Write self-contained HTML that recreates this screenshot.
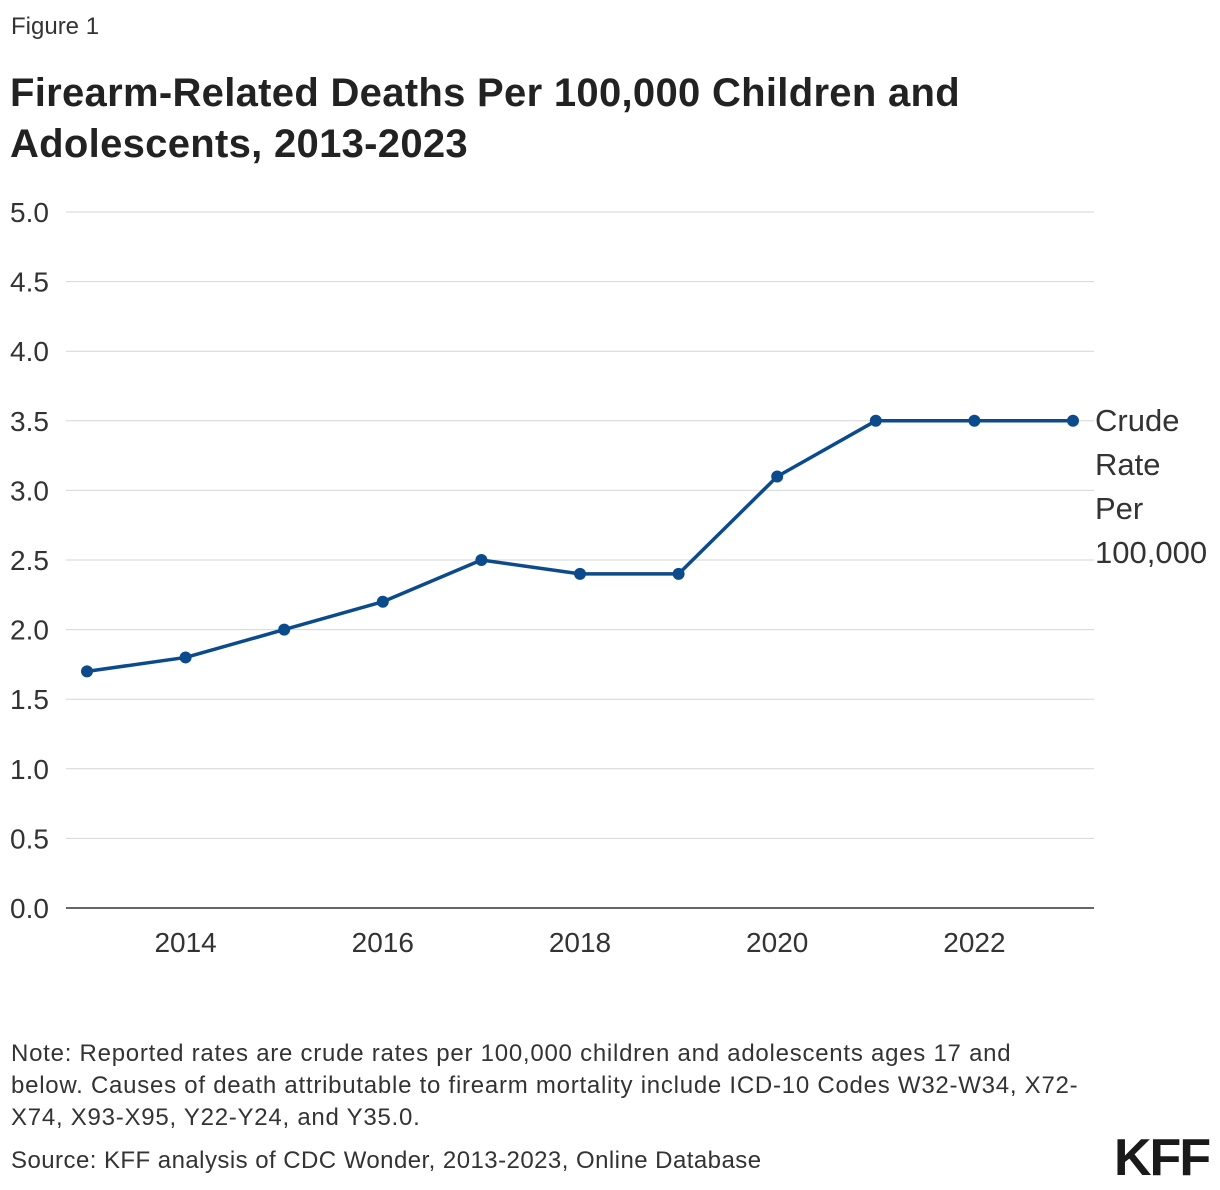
<!DOCTYPE html>
<html><head><meta charset="utf-8"><style>
body{margin:0;width:1220px;height:1190px;background:#fff;font-family:"Liberation Sans",sans-serif;color:#222;position:relative;overflow:hidden}
.t{position:absolute;white-space:nowrap}
</style></head><body>
<div class="t" style="left:11px;top:13px;font-size:24px;color:#333">Figure 1</div>
<div class="t" style="left:10px;top:68px;font-size:40px;font-weight:bold;line-height:51px;color:#222;letter-spacing:0.3px">Firearm-Related Deaths Per 100,000 Children and<br>Adolescents, 2013-2023</div>
<svg id="chart" width="1220" height="1000" style="position:absolute;left:0;top:0"></svg>
<div class="t" style="left:11px;top:1038px;font-size:24px;line-height:32px;color:#333;letter-spacing:0.75px">Note: Reported rates are crude rates per 100,000 children and adolescents ages 17 and<br>below. Causes of death attributable to firearm mortality include ICD-10 Codes W32-W34, X72-<br>X74, X93-X95, Y22-Y24, and Y35.0.</div>
<div class="t" style="left:11px;top:1147px;font-size:24px;color:#333;letter-spacing:0.45px">Source: KFF analysis of CDC Wonder, 2013-2023, Online Database</div>
<div class="t" style="left:1114px;top:1128px;font-size:52px;font-weight:bold;color:#1a1a1a;letter-spacing:-2px">KFF</div>
<script>
const years=[2013,2014,2015,2016,2017,2018,2019,2020,2021,2022,2023];
const rates=[1.7,1.8,2.0,2.2,2.5,2.4,2.4,3.1,3.5,3.5,3.5];
const yTicks=[0,0.5,1,1.5,2,2.5,3,3.5,4,4.5,5];
const xTicks=[2014,2016,2018,2020,2022];
const ns="http://www.w3.org/2000/svg";
const svg=document.getElementById('chart');
const X=v=>87+(v-2013)*98.6, Y=v=>908-v*139.2;
function mk(t,a){const e=document.createElementNS(ns,t);for(const k in a)e.setAttribute(k,a[k]);svg.appendChild(e);return e;}
yTicks.forEach(v=>{
 const l=mk('line',{x1:66,x2:1094,y1:Y(v),y2:Y(v),stroke:v===0?'#333':'#d6d6d6','stroke-width':v===0?1.5:1});
 
 
 const t=mk('text',{x:10,y:Y(v)+10,'font-size':28,fill:'#333','font-family':'Liberation Sans'});
 t.textContent=v.toFixed(1);
 
 
});
xTicks.forEach(v=>{
 const t=mk('text',{x:X(v),y:952,'font-size':28,fill:'#333','text-anchor':'middle','font-family':'Liberation Sans'});
 t.textContent=v;
 
 
});
const p=mk('polyline',{points:years.map((y,i)=>X(y)+','+Y(rates[i])).join(' '),fill:'none',stroke:'#0b4a8b','stroke-width':3.5,'stroke-linejoin':'round'});


years.forEach((y,i)=>{
 const c=mk('circle',{cx:X(y),cy:Y(rates[i]),r:6,fill:'#0b4a8b'});
 
 
});
['Crude','Rate','Per','100,000'].forEach((s,i)=>{
 const t=mk('text',{x:1095,y:Y(rates[rates.length-1])+10+i*44,'font-size':31,fill:'#333','font-family':'Liberation Sans'});
 t.textContent=s;
 
 
});
</script>
</body></html>
